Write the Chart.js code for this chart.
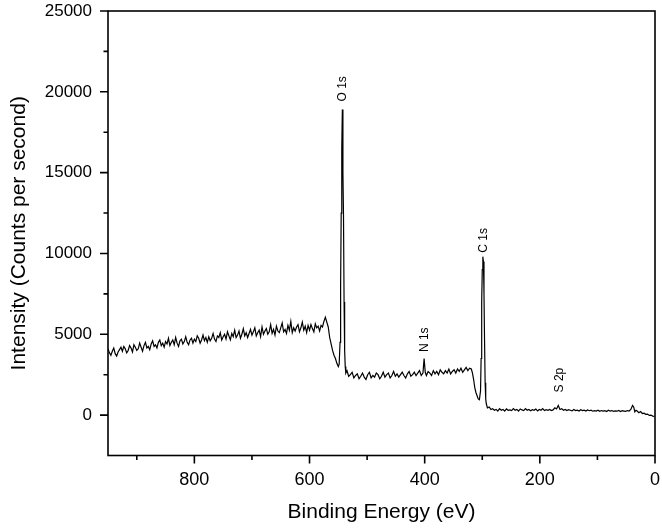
<!DOCTYPE html>
<html><head><meta charset="utf-8">
<script src="https://cdn.jsdelivr.net/npm/chart.js@4.4.1/dist/chart.umd.min.js"></script>
<style>html,body{margin:0;padding:0;background:#fff}#wrap{width:662px;height:530px}</style>
</head><body><div id="wrap"><canvas id="c" width="662" height="530"></canvas></div>
<script>
const bindingEnergy = [
950,947.5,945,942.5,940,937.5,935,932.5,930,927.5,925,922.5,920,917.5,915,912.5,910,907.5,905,902.5,
900,897.5,895,892.5,890,887.5,885,882.5,880,877.5,875,872.5,870,867.5,865,862.5,860,857.5,855,852.5,
850,847.5,845,842.5,840,837.5,835,832.5,830,827.5,825,822.5,820,817.5,815,812.5,810,807.5,805,802.5,
800,797.5,795,792.5,790,787.5,785,782.5,780,777.5,775,772.5,770,767.5,765,762.5,760,757.5,755,752.5,
750,747.5,745,742.5,740,737.5,735,732.5,730,727.5,725,722.5,720,717.5,715,712.5,710,707.5,705,702.5,
700,697.5,695,692.5,690,687.5,685,682.5,680,677.5,675,672.5,670,667.5,665,662.5,660,657.5,655,652.5,
650,647.5,645,642.5,640,637.5,635,632.5,630,627.5,625,622.5,620,617.5,615,612.5,610,607.5,605,602.5,
600,597.5,595,592.5,590,587.5,585,582.5,580,577.5,575,572.5,570,567.5,565,562.5,560,557.5,555,552.5,
550,548.5,547,546,545,544,543,542,541,540,539,538,
537,535,532,529,526,523,520,517,514,511,508,505,502,499,496,493,490,487,484,481,
478,475,472,469,466,463,460,457,454,451,448,445,442,439,436,433,430,427,424,421,
418,415,412,409,406,403,401,399,397,394,391,388,385,382,379,376,373,370,367,364,
361,358,355,352,349,346,343,340,337,334,331,328,325,322,319,
317,315,313,311,309,307,305,303,302,301,
300,299,298,297,296,295,294,293,291,288,285,282,279,276,273,270,267,264,261,258,
255,252,249,246,243,240,237,234,231,228,225,222,219,216,213,210,207,204,201,198,
195,192,189,186,183,180,177,174,171,168,165,162,159,156,153,150,147,144,141,138,
135,132,129,126,123,120,117,114,111,108,105,102,99,96,93,90,87,84,81,78,
75,72,69,66,63,60,57,54,51,48,45,42,39,37,35,33,31,28,25,22,
19,16,13,10,7,4,1
];
const intensity = [
4100,3850,3700,3950,4150,3800,3650,3900,4050,4200,3950,4250,4100,3850,4000,4300,4150,3900,4350,4200,
4000,4100,4450,4200,3950,4300,4500,4150,4250,4050,4400,4600,4250,4350,4150,4500,4650,4300,4450,4200,
4550,4400,4750,4300,4500,4650,4350,4800,4450,4250,4600,4700,4400,4550,4850,4500,4350,4650,4750,4450,
4700,4550,4900,4750,4450,4650,4950,4600,4800,4500,4850,4600,4750,5050,4700,4550,4900,4800,5100,4650,
4850,5000,4700,5150,4900,4650,5050,4850,5250,4800,4950,5200,4750,5000,5350,4900,5100,4800,5050,5300,
4950,5150,5400,4900,5100,5250,4850,5450,5000,5200,5350,5000,5150,5600,5050,5300,4950,5500,5200,5100,
5400,5700,5150,5300,5050,5550,5250,5800,5100,5400,5200,5450,5600,5150,5400,5750,5250,5500,5100,5550,
5250,5600,5350,5150,5650,5400,5500,5200,5550,5450,5800,6050,5750,5450,4800,4400,4000,3700,3500,3200,
3000,3150,4500,8000,12500,16500,18900,15000,12300,7000,4000,3000,
2600,2750,2400,2500,2650,2300,2450,2550,2250,2400,2600,2350,2200,2500,2650,2300,2450,2350,2600,2500,
2250,2400,2650,2350,2500,2600,2300,2450,2700,2400,2550,2350,2500,2650,2450,2300,2550,2700,2400,2500,
2650,2450,2600,2750,2450,2600,3500,2650,2450,2700,2600,2450,2750,2550,2700,2500,2800,2650,2550,2750,
2600,2850,2550,2700,2800,2600,2850,2700,2900,2650,2800,2950,2750,2900,2850,
2600,2200,1700,1400,1200,1000,950,1500,3500,7000,
9000,9800,9500,7500,4500,2000,1000,700,450,500,350,400,300,350,250,400,300,350,250,380,
300,320,280,400,300,350,250,380,320,280,400,300,350,270,330,300,380,260,350,300,
400,280,330,300,350,280,320,450,380,600,350,400,300,350,280,330,300,260,350,280,
300,250,330,280,300,250,320,270,300,240,280,250,300,230,280,250,270,220,300,250,
280,230,260,240,290,220,270,250,230,280,250,350,600,500,200,300,250,150,220,100,
120,50,60,-20,0,-60,-80
];
const xTickValues = [800, 600, 400, 200, 0];
const xMinorTicks = [900, 700, 500, 300, 100];
const yTickValues = [0, 5000, 10000, 15000, 20000, 25000];
const yMinorTicks = [2500, 7500, 12500, 17500, 22500];
const peakNames = ['O 1s', 'N 1s', 'C 1s', 'S 2p'];
const peakEnergy = [543, 400, 297, 166];
const peakLabelBase = [19400, 3900, 10050, 1400];

const FONT = '"Liberation Sans", Arial, Helvetica, sans-serif';

const decor = {
  id: 'decor',
  afterDraw(chart) {
    const {ctx, chartArea: a, scales: {x, y}} = chart;
    ctx.save();
    ctx.strokeStyle = '#000';
    ctx.lineWidth = 1.6;
    ctx.strokeRect(a.left, a.top, a.right - a.left, a.bottom - a.top);
    ctx.beginPath();
    xTickValues.forEach(v => { const p = x.getPixelForValue(v); ctx.moveTo(p, a.bottom); ctx.lineTo(p, a.bottom + 8); });
    xMinorTicks.forEach(v => { const p = x.getPixelForValue(v); ctx.moveTo(p, a.bottom); ctx.lineTo(p, a.bottom + 4.5); });
    yTickValues.forEach(v => { const p = y.getPixelForValue(v); ctx.moveTo(a.left, p); ctx.lineTo(a.left - 8, p); });
    yMinorTicks.forEach(v => { const p = y.getPixelForValue(v); ctx.moveTo(a.left, p); ctx.lineTo(a.left - 4.5, p); });
    ctx.stroke();
    ctx.fillStyle = '#000';
    ctx.font = '12px ' + FONT;
    peakNames.forEach((n, i) => {
      const px = x.getPixelForValue(peakEnergy[i]);
      const py = y.getPixelForValue(peakLabelBase[i]);
      ctx.save();
      ctx.translate(px, py);
      ctx.rotate(-Math.PI / 2);
      ctx.textAlign = 'left';
      ctx.textBaseline = 'middle';
      ctx.fillText(n, 0, 0);
      ctx.restore();
    });
    ctx.restore();
  }
};

new Chart(document.getElementById('c'), {
  type: 'line',
  data: {
    datasets: [{
      data: bindingEnergy.map((e, i) => ({x: e, y: intensity[i]})),
      borderColor: '#000',
      borderWidth: 1.2,
      pointRadius: 0,
      tension: 0,
      fill: false
    }]
  },
  options: {
    responsive: false,
    animation: false,
    devicePixelRatio: 1,
    layout: {padding: {top: 11, right: 7, left: 0, bottom: 0}},
    plugins: {legend: {display: false}, tooltip: {enabled: false}},
    scales: {
      x: {
        type: 'linear', reverse: true, min: 0, max: 950,
        afterBuildTicks: s => { s.ticks = xTickValues.map(v => ({value: v})); },
        afterFit: s => { s.height = 74.5; s.paddingLeft = 0; s.paddingRight = 0; },
        grid: {display: true, drawOnChartArea: false, drawTicks: false},
        border: {display: false},
        ticks: {color: '#000', font: {family: FONT, size: 18}, padding: 14, maxRotation: 0, autoSkip: false,
                callback: v => String(v)},
        title: {display: true, text: 'Binding Energy (eV)', color: '#000', font: {family: FONT, size: 21}, padding: {top: 0, bottom: 5}}
      },
      y: {
        type: 'linear', min: -2500, max: 25000,
        afterBuildTicks: s => { s.ticks = yTickValues.map(v => ({value: v})); },
        afterFit: s => { s.width = 108; s.paddingTop = 0; s.paddingBottom = 0; },
        grid: {display: true, drawOnChartArea: false, drawTicks: false},
        border: {display: false},
        ticks: {color: '#000', font: {family: FONT, size: 17}, padding: 16, autoSkip: false,
                callback: v => String(v)},
        title: {display: true, text: 'Intensity (Counts per second)', color: '#000', font: {family: FONT, size: 21}, padding: {top: 7, bottom: 0}}
      }
    }
  },
  plugins: [decor]
});
</script>
</body></html>
